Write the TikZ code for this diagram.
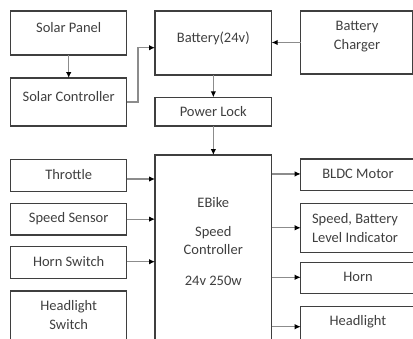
\documentclass[tikz,border=0pt]{standalone}
\usepackage{fontspec}
\setmainfont{Carlito}
\usetikzlibrary{arrows.meta}
\definecolor{boxc}{HTML}{3F3F3F}
\definecolor{linec}{HTML}{8C8C8C}
\tikzset{
  blk/.style={draw=boxc, line width=1.5pt, anchor=north west, inner sep=0pt, outer sep=0pt},
  txt/.style={font=\fontsize{14.5}{18.5}\selectfont, text=boxc, align=center, inner sep=0pt},
  con/.style={draw=linec, line width=1.1pt, -{Latex[length=6pt,width=5.5pt,black]}}
}
\begin{document}
\begin{tikzpicture}[x=1pt,y=-1pt]
\useasboundingbox (0,0) rectangle (413,338);
\clip (0,0) rectangle (413,338);
% top row
\node[blk, minimum width=116pt, minimum height=44pt] (sp) at (10.7,11) {};
\node[blk, minimum width=116pt, minimum height=48pt] (sc) at (10.7,78) {};
\node[blk, minimum width=116.7pt, minimum height=64pt] (bat) at (155,11) {};
\node[blk, minimum width=111.6pt, minimum height=63pt] (bc) at (300.7,11) {};
\node[blk, minimum width=116.7pt, minimum height=28.7pt] (pl) at (155,97.3) {};
\node[txt] (spt) at (68.7,28) {Solar Panel};
\node[txt] (sct) at (68.7,97) {Solar Controller};
\node[txt] (batt) at (213.3,38) {Battery(24v)};
\node[txt] (bct) at (357,36.5) {Battery\\[1pt]Charger};
\node[txt] (plt) at (213.3,112) {Power Lock};
% controller
\node[blk, minimum width=116.7pt, minimum height=200pt] (ctl) at (155,155) {};
\node[txt] (ctlt) at (213.3,241.5) {EBike\\[10pt]Speed\\Controller\\[12pt]24v 250w};
% inputs
\node[blk, minimum width=116pt, minimum height=32.4pt] (th) at (10.7,159.3) {};
\node[blk, minimum width=116pt, minimum height=31.7pt] (ss) at (10.7,203.3) {};
\node[blk, minimum width=116pt, minimum height=31.6pt] (hs) at (10.7,246.7) {};
\node[blk, minimum width=116pt, minimum height=60pt] (hls) at (10.7,291) {};
\node[txt] (tht) at (68.7,174.5) {Throttle};
\node[txt] (sst) at (68.7,218.5) {Speed Sensor};
\node[txt] (hst) at (68.7,261.5) {Horn Switch};
\node[txt] (hlst) at (68.7,315) {Headlight\\Switch};
% outputs
\node[blk, minimum width=130pt, minimum height=31.7pt] (bldc) at (300.7,159) {};
\node[blk, minimum width=130pt, minimum height=49pt] (sbl) at (300.7,203.3) {};
\node[blk, minimum width=130pt, minimum height=31pt] (horn) at (300.7,262.3) {};
\node[blk, minimum width=130pt, minimum height=40pt] (hl) at (300.7,306.7) {};
\node[txt] (bldct) at (358,174) {BLDC Motor};
\node[txt] (sblt) at (355,228) {Speed, Battery\\Level Indicator};
\node[txt] (hornt) at (358,277) {Horn};
\node[txt] (hlt) at (358,322) {Headlight};
% connectors
\draw[con] (sp.south) -- (sc.north);
\draw[con] (sc.east) -- ++(11.3,0) |- ([yshift=-4.7pt]bat.west);
\draw[con] (bc.west) -- (bc.west -| bat.east);
\draw[con] (bat.south) -- (pl.north);
\draw[con] (pl.south) -- (ctl.north);
\foreach \n/\d in {th/-3.5, ss/0, hs/0.8, hls/-23}
  \draw[con] ([yshift=\d pt]\n.east) -- ([yshift=\d pt]\n.east -| ctl.west);
\foreach \n/\d in {bldc/0.9, sbl/0, horn/0.5, hl/0}
  \draw[con] ([yshift=\d pt]\n.west -| ctl.east) -- ([yshift=\d pt]\n.west);
\end{tikzpicture}
\end{document}
